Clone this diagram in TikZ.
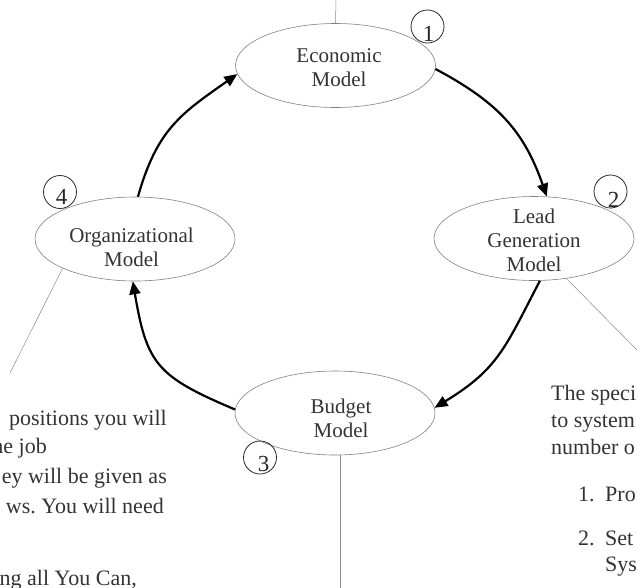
\documentclass[tikz,border=0pt]{standalone}
\usepackage{fontspec}
\setmainfont{Liberation Serif}
\usetikzlibrary{shapes.geometric,arrows.meta}
\definecolor{txt}{HTML}{333333}
\definecolor{ellline}{HTML}{808080}
\definecolor{leadcol}{HTML}{8A8A8A}
\frenchspacing
\begin{document}
\begin{tikzpicture}[x=1pt,y=-1pt,
  model/.style={ellipse, draw=ellline, line width=0.6pt, minimum width=200pt, minimum height=84pt, inner sep=0pt},
  modeltext/.style={align=center, text=txt, inner sep=0pt, font=\fontsize{21}{24}\selectfont},
  flow/.style={line width=2.2pt, -{Triangle[length=13pt,width=11pt]}},
  leader/.style={draw=leadcol, line width=0.5pt},
  badge/.style={circle, draw=black!85, line width=0.8pt, minimum size=33pt, inner sep=0pt},
  num/.style={font=\fontsize{23}{23}\selectfont, text=black!85, inner sep=0pt},
  body/.style={font=\fontsize{22}{26}\selectfont, text=txt, inner sep=0pt}
]
\useasboundingbox (0,0) rectangle (637,587);
\clip (0,0) rectangle (637,587);

% ellipses
\node[model] (eco) at (335.5,65.5) {};
\node[model] (lead) at (534,238.5) {};
\node[model] (bud) at (335,413) {};
\node[model] (org) at (135,239) {};

\node[modeltext, xshift=3.5pt, yshift=-2.5pt] (ecot) at (eco) {Economic\\Model};
\node[modeltext, yshift=-1.5pt] (leadt) at (lead) {Lead\\Generation\\Model};
\node[modeltext, xshift=6pt, yshift=-5.5pt] (budt) at (bud) {Budget\\Model};
\node[modeltext, xshift=-3.5pt, yshift=-8pt] (orgt) at (org) {Organizational\\Model};

% cycle arrows
\draw[flow] (eco.-2) .. controls +(62,33) and +(-23,-66) .. (lead.73);
\draw[flow] (lead.-82) .. controls +(-35,67) and +(64,-39) .. (bud.3);
\draw[flow] (bud.178) .. controls +(-78,-33) and +(14,83) .. (org.-93);
\draw[flow] (org.86) .. controls +(19,-67) and +(-57,40) .. (eco.185);

% leader lines
\coordinate (ecotop) at (336,-2);
\coordinate (orgend) at (10,373);
\coordinate (leadend) at (640,353);
\coordinate (budend) at (340,590);
\draw[leader] (eco.north) -- (ecotop);
\draw[leader] (org.202) -- (orgend);
\draw[leader] (lead.-51) -- (leadend);
\draw[leader] (bud.south -| budend) -- (budend);

% numbered badges
\node[badge] (b1) at (427.5,26.5) {};
\node[num] (n1) at (428.5,33.5) {1};
\node[badge] (b2) at (610.5,191.5) {};
\node[num] (n2) at (613.5,199.5) {2};
\node[badge] (b3) at (260,457.5) {};
\node[num] (n3) at (263.5,463.5) {3};
\node[badge] (b4) at (60,192) {};
\node[num] (n4) at (61.5,197) {4};

% left text block
\node[body, anchor=base east] (l1) at (167,425) {positions you will};
\node[body, anchor=base east] (l2) at (47,453) {he job};
\node[body, anchor=base east] (l3) at (167,483) {ey will be given as};
\node[body, anchor=base east] (l4) at (164,513) {ws. You will need};
\node[body, anchor=base east] (l5) at (137,585) {ng all You Can,};

% right text block
\node[body, anchor=base west] (r1) at (551,400) {The speci};
\node[body, anchor=base west] (r2) at (551,427) {to system};
\node[body, anchor=base west] (r3) at (551,454) {number o};
\node[body, anchor=base west] (r4a) at (578,501) {1.};
\node[body, anchor=base west] (r4b) at (605,501) {Pro};
\node[body, anchor=base west] (r5a) at (578,545) {2.};
\node[body, anchor=base west] (r5b) at (605,545) {Set};
\node[body, anchor=base west] (r6) at (605,571) {Sys};
\end{tikzpicture}
\end{document}
